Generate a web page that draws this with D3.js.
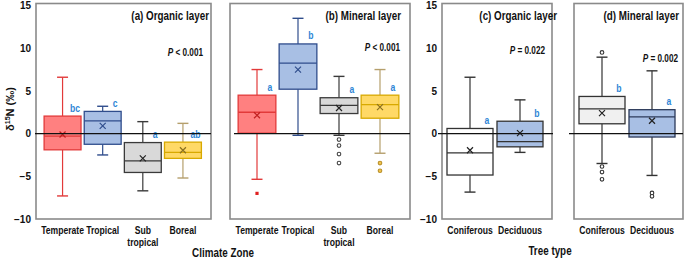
<!DOCTYPE html>
<html><head><meta charset="utf-8">
<script src="https://cdn.jsdelivr.net/npm/d3@7"></script>
<style>
body{margin:0;background:#fff}
svg{display:block}
text{font-family:"Liberation Sans",Arial,sans-serif;font-weight:bold;fill:#111}
</style></head><body>
<svg id="c" width="685" height="259"></svg>
<script>
// ---------- data ----------
const climateZones = ["Temperate", "Tropical", "Sub tropical", "Boreal"];
const climateZoneLabels = [["Temperate"], ["Tropical"], ["Sub", "tropical"], ["Boreal"]];
const treeTypes = ["Coniferous", "Deciduous"];
const yTicks = [15, 10, 5, 0, -5, -10];

// [lower whisker, Q1, median, Q3, upper whisker, mean]
const organicClimateStats = [
  [-7.3, -1.9, -0.3, 2.05, 6.6, -0.1],
  [-2.5, -1.25, 1.5, 2.6, 3.2, 0.9],
  [-6.7, -4.55, -3.2, -1.05, 1.4, -2.9],
  [-5.2, -2.9, -2.2, -1.0, 1.2, -1.95]
];
const organicClimateOutliers = [[], [], [], []];
const organicClimateLetters = ["bc", "c", "a", "ab"];

const mineralClimateStats = [
  [-5.35, 0.05, 2.5, 4.5, 7.5, 2.15],
  [-0.2, 5.2, 8.25, 10.5, 13.5, 7.5],
  [-0.2, 2.35, 3.3, 4.2, 6.7, 3.0],
  [-2.3, 1.8, 3.4, 4.5, 7.5, 3.1]
];
const mineralClimateOutliers = [[-7.0], [], [-0.7, -1.4, -2.4, -3.45], [-3.45, -4.35]];
const mineralClimateLetters = ["a", "b", "a", "a"];

const organicTreeStats = [
  [-6.85, -4.85, -2.25, 0.6, 6.6, -1.95],
  [-2.2, -1.55, -0.95, 1.45, 3.95, 0.05]
];
const organicTreeOutliers = [[], []];
const organicTreeLetters = ["a", "b"];

const mineralTreeStats = [
  [-3.5, 1.15, 2.9, 4.35, 8.95, 2.4],
  [-4.9, -0.4, 1.95, 2.8, 7.35, 1.5]
];
const mineralTreeOutliers = [[9.5, -3.85, -4.5, -5.35], [-6.95, -7.35]];
const mineralTreeLetters = ["b", "a"];

// ---------- styles ----------
const climateStyle = [
  {fill: "#ff8080", stroke: "#e23a3a", whisker: "#e23a3a", mean: "#c02020", out: "sq", outFill: "#e02020", outStroke: "#e02020"},
  {fill: "#a8bfe4", stroke: "#2f4d8c", whisker: "#2f4d8c", mean: "#2f4d8c"},
  {fill: "#d9d9d9", stroke: "#3a3a3a", whisker: "#3a3a3a", mean: "#222", out: "c", outFill: "#fff", outStroke: "#444"},
  {fill: "#ffd966", stroke: "#d8a900", whisker: "#b59f6c", mean: "#8a7020", out: "c", outFill: "#f2c24a", outStroke: "#b8902a"}
];
const treeStyleOrg = [
  {fill: "#ffffff", stroke: "#333", whisker: "#333", mean: "#222"},
  {fill: "#a8bfe4", stroke: "#333", whisker: "#333", mean: "#222"}
];
const treeStyleMin = [
  {fill: "#f0f0f0", stroke: "#333", whisker: "#333", mean: "#222", out: "c", outFill: "#fff", outStroke: "#333"},
  {fill: "#a8bfe4", stroke: "#2c3a5a", whisker: "#333", mean: "#222", out: "c", outFill: "#fff", outStroke: "#333"}
];

const svg = d3.select("#c");
const y = d3.scaleLinear().domain([-10, 15]).range([219, 5.5]);
const NARROW = 0.82;

// condensed text helper (horizontal squeeze of Liberation Sans Bold)
function ntext(parent, x, yy, size, anchor) {
  const g = parent.append("g").attr("transform", `translate(${x},${yy}) scale(${NARROW},1)`);
  return g.append("text").attr("x", 0).attr("y", 0).attr("text-anchor", anchor).style("font-size", size + "px");
}

const panels = [
  {frame: [36, 211], inner: [42.5, 203], zero: [35, 211], cats: climateZones, labels: climateZoneLabels,
   stats: organicClimateStats, outliers: organicClimateOutliers, letters: organicClimateLetters, style: climateStyle,
   title: "(a) Organic layer", titleX: 209, p: " < 0.001", pX: 203, pY: 52, axis: 36},
  {frame: [230, 410], inner: [236.5, 400.5], zero: [234, 410], cats: climateZones, labels: climateZoneLabels,
   stats: mineralClimateStats, outliers: mineralClimateOutliers, letters: mineralClimateLetters, style: climateStyle,
   title: "(b) Mineral layer", titleX: 401, p: " < 0.001", pX: 400, pY: 47},
  {frame: [442, 552], inner: [445, 545], zero: [438, 553], cats: treeTypes, labels: treeTypes.map(d => [d]),
   stats: organicTreeStats, outliers: organicTreeOutliers, letters: organicTreeLetters, style: treeStyleOrg,
   title: "(c) Organic layer", titleX: 557, p: " = 0.022", pX: 545, pY: 50, axis: 442},
  {frame: [574, 683], inner: [577, 677], zero: [569, 683], cats: treeTypes, labels: treeTypes.map(d => [d]),
   stats: mineralTreeStats, outliers: mineralTreeOutliers, letters: mineralTreeLetters, style: treeStyleMin,
   title: "(d) Mineral layer", titleX: 679, p: " = 0.002", pX: 678, pY: 58}
];

panels.forEach(P => {
  const g = svg.append("g");
  const x = d3.scaleBand().domain(P.cats).range(P.inner).paddingInner(0.08).paddingOuter(0.04);
  const bw = x.bandwidth();

  // frame
  g.append("rect").attr("x", P.frame[0]).attr("y", y(15) - 2).attr("width", P.frame[1] - P.frame[0])
    .attr("height", y(-10) - y(15) + 2).attr("fill", "none").attr("stroke", "#8a8a8a").attr("stroke-width", 1.6);

  // y axis
  if (P.axis !== undefined) {
    const ax = g.append("g").attr("transform", `translate(${P.axis},0)`)
      .call(d3.axisLeft(y).tickValues(yTicks).tickSize(0).tickPadding(5));
    ax.select(".domain").remove();
    ax.selectAll("text").style("font-family", "'Liberation Sans',Arial,sans-serif")
      .style("font-size", "10px").style("font-weight", "bold").attr("fill", "#111");
  }

  P.cats.forEach((c, i) => {
    const s = P.stats[i], st = P.style[i];
    const x0 = x(c), cx = x0 + bw / 2;
    const [lo, q1, med, q3, hi, mean] = s;
    const cap = 11;
    // whiskers
    g.append("line").attr("x1", cx).attr("x2", cx).attr("y1", y(hi)).attr("y2", y(q3)).attr("stroke", st.whisker).attr("stroke-width", 1.2);
    g.append("line").attr("x1", cx).attr("x2", cx).attr("y1", y(q1)).attr("y2", y(lo)).attr("stroke", st.whisker).attr("stroke-width", 1.2);
    g.append("line").attr("x1", cx - cap / 2).attr("x2", cx + cap / 2).attr("y1", y(hi)).attr("y2", y(hi)).attr("stroke", st.whisker).attr("stroke-width", 1.4);
    g.append("line").attr("x1", cx - cap / 2).attr("x2", cx + cap / 2).attr("y1", y(lo)).attr("y2", y(lo)).attr("stroke", st.whisker).attr("stroke-width", 1.4);
    // box
    g.append("rect").attr("x", x0).attr("y", y(q3)).attr("width", bw).attr("height", y(q1) - y(q3))
      .attr("fill", st.fill).attr("stroke", st.stroke).attr("stroke-width", 1.3);
    g.append("line").attr("x1", x0).attr("x2", x0 + bw).attr("y1", y(med)).attr("y2", y(med)).attr("stroke", st.stroke).attr("stroke-width", 1.3);
    // mean marker
    const m = 3, my = y(mean);
    g.append("path").attr("d", `M${cx - m},${my - m}L${cx + m},${my + m}M${cx - m},${my + m}L${cx + m},${my - m}`)
      .attr("stroke", st.mean).attr("stroke-width", 1.2).attr("fill", "none");
    // outliers
    P.outliers[i].forEach(v => {
      if (st.out === "sq") {
        g.append("rect").attr("x", cx - 1.6).attr("y", y(v) - 1.6).attr("width", 3.2).attr("height", 3.2).attr("fill", st.outFill);
      } else {
        g.append("circle").attr("cx", cx).attr("cy", y(v)).attr("r", 1.8)
          .attr("fill", st.outFill).attr("stroke", st.outStroke).attr("stroke-width", 1.1);
      }
    });
    // letters
    ntext(g, x0 + bw - 6, y(q3) - 4.5, 10.5, "middle").style("fill", "#2f86d6").text(P.letters[i]);
    // category labels
    const lt = ntext(g, cx, 233.5, 10.5, "middle");
    P.labels[i].forEach((l, k) => lt.append("tspan").attr("x", 0).attr("dy", k ? 12.5 : 0).text(l));
  });

  // zero line
  g.append("line").attr("x1", P.zero[0]).attr("x2", P.zero[1]).attr("y1", y(0)).attr("y2", y(0)).attr("stroke", "#111").attr("stroke-width", 1.1);

  // titles
  ntext(g, P.titleX, 19.5, 12, "end").text(P.title);
  const pt = ntext(g, P.pX, P.pY + 3.5, 10, "end");
  pt.append("tspan").style("font-style", "italic").text("P");
  pt.append("tspan").text(P.p);
});

// axis titles
ntext(svg, 223, 256.5, 12, "middle").text("Climate Zone");
ntext(svg, 550, 255, 12, "middle").text("Tree type");
const yl = svg.append("text").attr("transform", "translate(14,109) rotate(-90)").attr("text-anchor", "middle")
  .style("font-size", "11px");
yl.append("tspan").text("δ");
yl.append("tspan").attr("dy", -4).style("font-size", "7px").text("15");
yl.append("tspan").attr("dy", 4).text("N (‰)");
</script>
</body></html>
